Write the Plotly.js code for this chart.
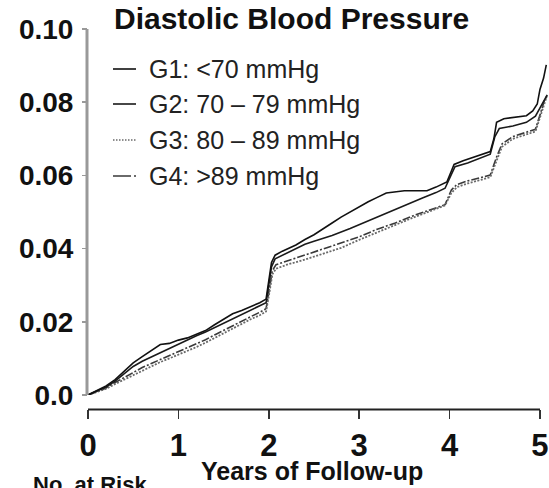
<!DOCTYPE html>
<html>
<head>
<meta charset="utf-8">
<script src="https://cdn.plot.ly/plotly-3.0.1.min.js"></script>
<style>
  html, body { margin: 0; padding: 0; background: #fff; }
  #chart { width: 549px; height: 488px; }
</style>
</head>
<body>
<div id="chart"></div>
<script>
// Cumulative incidence by diastolic blood pressure group, years 0-5
const groupNames = ["G1: <70 mmHg", "G2: 70 \u2013 79 mmHg", "G3: 80 \u2013 89 mmHg", "G4: >89 mmHg"];

const g1Years = [0, 0.1, 0.2, 0.3, 0.4, 0.5, 0.6, 0.7, 0.8, 0.9, 1.0, 1.1, 1.2, 1.3, 1.4, 1.5, 1.6, 1.7, 1.8, 1.9,
  1.97, 2.0, 2.03, 2.07, 2.15, 2.3, 2.35, 2.4, 2.5, 2.6, 2.7, 2.8, 2.9, 3.0, 3.1, 3.2, 3.3, 3.5, 3.75, 3.85, 3.97,
  4.02, 4.05, 4.15, 4.25, 4.35, 4.45, 4.49, 4.52, 4.6, 4.75, 4.85, 4.92, 4.97, 5.0, 5.04, 5.07];
const g1Risk = [0, 0.0012, 0.0025, 0.0042, 0.0066, 0.0088, 0.0105, 0.0122, 0.0138, 0.0141, 0.0150, 0.0156, 0.0166,
  0.0176, 0.0192, 0.0207, 0.0222, 0.0231, 0.0242, 0.0252, 0.0262, 0.0310, 0.0362, 0.0382, 0.0393, 0.0410, 0.0418,
  0.0425, 0.0438, 0.0455, 0.0470, 0.0486, 0.0500, 0.0515, 0.0528, 0.0540, 0.0552, 0.0558, 0.0558, 0.0568, 0.0582,
  0.0612, 0.0630, 0.0640, 0.0648, 0.0655, 0.0665, 0.0700, 0.0745, 0.0755, 0.0760, 0.0763, 0.0776, 0.0795, 0.0835,
  0.0866, 0.0902];

const g2Years = [0, 0.1, 0.2, 0.3, 0.4, 0.5, 0.6, 0.7, 0.8, 0.9, 1.0, 1.1, 1.2, 1.3, 1.4, 1.5, 1.6, 1.7, 1.8, 1.9,
  1.97, 2.0, 2.03, 2.07, 2.2, 2.4, 2.5, 2.7, 2.9, 3.1, 3.3, 3.5, 3.7, 3.85, 3.95, 4.02, 4.06, 4.2, 4.35, 4.45, 4.5,
  4.55, 4.7, 4.85, 4.95, 5.0, 5.04, 5.08];
const g2Risk = [0, 0.0010, 0.0022, 0.0038, 0.0058, 0.0078, 0.0092, 0.0104, 0.0116, 0.0128, 0.0140, 0.0151, 0.0162,
  0.0172, 0.0184, 0.0196, 0.0210, 0.0222, 0.0234, 0.0244, 0.0252, 0.0300, 0.0350, 0.0372, 0.0388, 0.0412, 0.0420,
  0.0436, 0.0455, 0.0476, 0.0498, 0.0518, 0.0538, 0.0553, 0.0565, 0.0603, 0.0624, 0.0634, 0.0648, 0.0658, 0.0705,
  0.0728, 0.0735, 0.0745, 0.0762, 0.0785, 0.0805, 0.0820];

const g3Years = [0, 0.1, 0.2, 0.3, 0.4, 0.5, 0.6, 0.7, 0.8, 0.9, 1.0, 1.1, 1.2, 1.3, 1.4, 1.5, 1.6, 1.7, 1.8, 1.9,
  1.97, 2.0, 2.04, 2.08, 2.2, 2.4, 2.6, 2.8, 3.0, 3.2, 3.4, 3.6, 3.8, 3.95, 4.02, 4.08, 4.2, 4.35, 4.45, 4.52, 4.58,
  4.7, 4.85, 4.95, 5.0, 5.05, 5.08];
const g3Risk = [0, 0.0008, 0.0017, 0.0030, 0.0042, 0.0056, 0.0068, 0.0080, 0.0090, 0.0100, 0.0110, 0.0120, 0.0131,
  0.0143, 0.0156, 0.0169, 0.0182, 0.0195, 0.0207, 0.0218, 0.0228, 0.0270, 0.0330, 0.0345, 0.0356, 0.0370, 0.0385,
  0.0402, 0.0424, 0.0445, 0.0465, 0.0485, 0.0504, 0.0518, 0.0552, 0.0568, 0.0578, 0.0588, 0.0595, 0.0640, 0.0678,
  0.0700, 0.0712, 0.0720, 0.0758, 0.0798, 0.0820];

const g4Years = [0, 0.1, 0.2, 0.3, 0.4, 0.5, 0.6, 0.7, 0.8, 0.9, 1.0, 1.1, 1.2, 1.3, 1.4, 1.5, 1.6, 1.7, 1.8, 1.9,
  1.97, 2.0, 2.04, 2.08, 2.2, 2.4, 2.6, 2.8, 3.0, 3.2, 3.4, 3.6, 3.8, 3.95, 4.02, 4.08, 4.2, 4.35, 4.45, 4.52, 4.58,
  4.7, 4.85, 4.95, 5.0, 5.05, 5.08];
const g4Risk = [0, 0.0009, 0.0019, 0.0034, 0.0048, 0.0062, 0.0075, 0.0086, 0.0097, 0.0108, 0.0118, 0.0128, 0.0139,
  0.0151, 0.0164, 0.0177, 0.0190, 0.0203, 0.0214, 0.0226, 0.0236, 0.0280, 0.0340, 0.0356, 0.0366, 0.0382, 0.0398,
  0.0414, 0.0432, 0.0453, 0.0470, 0.0490, 0.0506, 0.0520, 0.0560, 0.0575, 0.0585, 0.0595, 0.0601, 0.0650, 0.0686,
  0.0706, 0.0718, 0.0726, 0.0765, 0.0805, 0.0818];

const xTicks = [0, 1, 2, 3, 4, 5];
const yTicks = [0, 0.02, 0.04, 0.06, 0.08, 0.10];
const yTickText = ["0.0", "0.02", "0.04", "0.06", "0.08", "0.10"];

// Line styles per group: two solid, one dotted, one dash-dot
const styles = [
  { color: "#111111", width: 1.6, dash: "solid" },
  { color: "#1a1a1a", width: 1.6, dash: "solid" },
  { color: "#6a6a6a", width: 1.8, dash: "2px,1.5px" },
  { color: "#3a3a3a", width: 1.6, dash: "8px,2px,2px,2px" }
];

const series = [[g1Years, g1Risk], [g2Years, g2Risk], [g3Years, g3Risk], [g4Years, g4Risk]];
const traces = series.map((s, i) => ({
  type: "scatter", mode: "lines", name: groupNames[i],
  x: s[0], y: s[1], showlegend: false, hoverinfo: "skip",
  line: { color: styles[i].color, width: styles[i].width, dash: styles[i].dash }
}));
// draw dotted groups first so the solid ones sit on top
traces.reverse();

// plot-area geometry in pixels
const W = 549, H = 488, L = 88, T = 29, PW = 461, PH = 380;
const ZERO_Y = 395; // pixel row of risk 0.0; the year axis sits a little below it
const px = x => (x - L) / PW;
const py = y => (T + PH - y) / PH;

const font = "Liberation Sans, Arial, Helvetica, sans-serif";

const legendRows = [69, 104, 140, 176];
const shapes = [
  // axis rules: grey risk axis from 0.0 to 0.10, dark year axis from 0 to 5
  { type: "line", xref: "paper", yref: "paper", x0: px(87), x1: px(87), y0: py(ZERO_Y), y1: 1,
    layer: "above", line: { color: "#999999", width: 3 } },
  { type: "line", xref: "paper", yref: "paper", x0: 0, x1: px(540), y0: py(409.5), y1: py(409.5),
    layer: "above", line: { color: "#222222", width: 2 } }
];
legendRows.forEach((r, i) => {
  shapes.push({ type: "line", xref: "paper", yref: "paper",
    x0: px(113), x1: px(136), y0: py(r), y1: py(r),
    line: { color: styles[i].color, width: 1.6,
            dash: i === 2 ? "1.5px,1.5px" : (i === 3 ? "18px,3px,2px,30px" : "solid") } });
});

const annotations = [
  { text: "<b>Diastolic Blood Pressure</b>", xref: "paper", yref: "paper",
    x: px(112), y: py(19), xanchor: "left", yanchor: "middle", showarrow: false,
    font: { family: font, size: 30, color: "#111" } },
  { text: "<b>Years of Follow-up</b>", xref: "paper", yref: "paper",
    x: px(312), y: py(471), xanchor: "center", yanchor: "middle", showarrow: false,
    font: { family: font, size: 25, color: "#111" } },
  { text: "<b>No. at Risk</b>", xref: "paper", yref: "paper",
    x: px(31), y: py(470), xanchor: "left", yanchor: "top", showarrow: false,
    font: { family: font, size: 22, color: "#111" } }
];
legendRows.forEach((r, i) => {
  annotations.push({ text: groupNames[i], xref: "paper", yref: "paper",
    x: px(147), y: py(r), xanchor: "left", yanchor: "middle", showarrow: false,
    font: { family: font, size: 25, color: "#222" } });
});

const layout = {
  width: W, height: H,
  margin: { l: L, r: W - L - PW, t: T, b: H - T - PH, pad: 0 },
  paper_bgcolor: "#fff", plot_bgcolor: "#fff",
  showlegend: false,
  xaxis: {
    range: [0, 5.1], tickvals: xTicks, ticktext: xTicks.map(String),
    anchor: "free", position: 0,
    showgrid: false, zeroline: false, showline: false,
    ticks: "outside", ticklen: 9, tickwidth: 1.5, tickcolor: "#333",
    tickfont: { family: font, size: 31, color: "#111", weight: "bold" },
    fixedrange: true
  },
  yaxis: {
    domain: [py(ZERO_Y), 1],
    range: [0, 0.10], tickvals: yTicks, ticktext: yTickText,
    showgrid: false, zeroline: false, showline: false,
    ticks: "outside", ticklen: 5, tickwidth: 1.5, tickcolor: "#999",
    tickfont: { family: font, size: 28, color: "#111", weight: "bold" },
    ticklabelstandoff: 3,
    fixedrange: true
  },
  shapes: shapes,
  annotations: annotations
};

Plotly.newPlot("chart", traces, layout, { staticPlot: true, displayModeBar: false });
</script>
</body>
</html>
